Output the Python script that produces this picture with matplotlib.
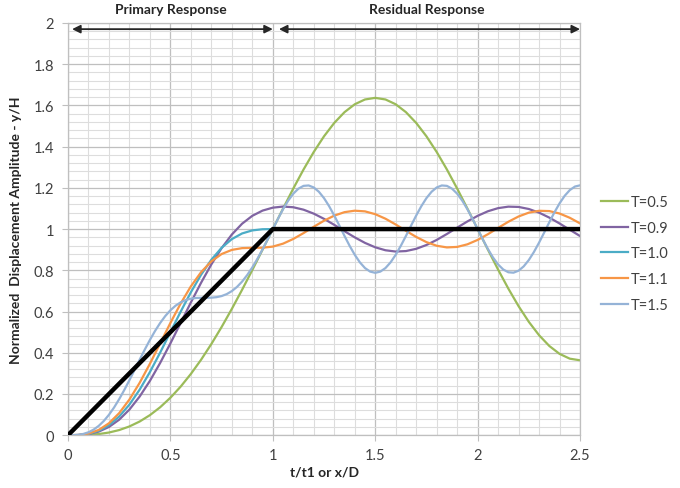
import matplotlib.pyplot as plt
import numpy as np
from matplotlib.ticker import MultipleLocator

plt.rcParams['font.family'] = ['Lato', 'DejaVu Sans']

# dimensionless time t/t1, step 0.05 (finer 0.025 step for the fast T=1.5 case)
tau = [round(0.05 * i, 3) for i in range(51)]
tau_fine = [round(0.025 * i, 3) for i in range(101)]

y_05 = [0.0, 0.0002, 0.0016, 0.0055, 0.0129, 0.0249, 0.0425, 0.0664, 0.0973, 0.1356,
        0.1817, 0.2356, 0.2973, 0.3664, 0.4425, 0.5249, 0.6129, 0.7055, 0.8016, 0.9002,
        1.0, 1.0996, 1.1967, 1.2890, 1.3742, 1.4502, 1.5150, 1.5672, 1.6055, 1.6288,
        1.6366, 1.6288, 1.6055, 1.5672, 1.5150, 1.4502, 1.3742, 1.2890, 1.1967, 1.0996,
        1.0, 0.9004, 0.8033, 0.7110, 0.6258, 0.5498, 0.4850, 0.4328, 0.3945, 0.3712,
        0.3634]
y_09 = [0.0, 0.0007, 0.0052, 0.0174, 0.0400, 0.0753, 0.1246, 0.1877, 0.2637, 0.3506,
        0.4454, 0.5444, 0.6440, 0.7400, 0.8289, 0.9076, 0.9737, 1.0261, 1.0644, 1.0897,
        1.1039, 1.1092, 1.1059, 1.0941, 1.0748, 1.0496, 1.0205, 0.9897, 0.9598, 0.9330,
        0.9116, 0.8972, 0.8909, 0.8933, 0.9042, 0.9227, 0.9473, 0.9762, 1.0069, 1.0370,
        1.0642, 1.0864, 1.1016, 1.1088, 1.1074, 1.0974, 1.0797, 1.0556, 1.0272, 0.9966,
        0.9662]
y_10 = [0.0, 0.0008, 0.0064, 0.0212, 0.0486, 0.0908, 0.1486, 0.2212, 0.3064, 0.4008,
        0.5, 0.5992, 0.6936, 0.7788, 0.8514, 0.9092, 0.9514, 0.9788, 0.9936, 0.9992,
        1.0, 1.0, 1.0, 1.0, 1.0, 1.0, 1.0, 1.0, 1.0, 1.0,
        1.0, 1.0, 1.0, 1.0, 1.0, 1.0, 1.0, 1.0, 1.0, 1.0,
        1.0, 1.0, 1.0, 1.0, 1.0, 1.0, 1.0, 1.0, 1.0, 1.0,
        1.0]
y_11 = [0.0, 0.0010, 0.0078, 0.0255, 0.0579, 0.1071, 0.1732, 0.2543, 0.3467, 0.4455,
        0.5447, 0.6387, 0.7222, 0.7912, 0.8435, 0.8789, 0.8990, 0.9075, 0.9091, 0.9096,
        0.9150, 0.9293, 0.9521, 0.9805, 1.0112, 1.0406, 1.0652, 1.0821, 1.0892, 1.0859,
        1.0723, 1.0503, 1.0222, 0.9916, 0.9619, 0.9368, 0.9191, 0.9110, 0.9134, 0.9260,
        0.9474, 0.9751, 1.0056, 1.0355, 1.0612, 1.0797, 1.0887, 1.0873, 1.0755, 1.0548,
        1.0276]
y_15 = [0.0, 0.0002, 0.0018, 0.0061, 0.0142, 0.0270, 0.0452, 0.0692, 0.0991, 0.1345,
        0.1750, 0.2196, 0.2672, 0.3167, 0.3666, 0.4156, 0.4624, 0.5057, 0.5445, 0.5782,
        0.6061, 0.6282, 0.6445, 0.6557, 0.6624, 0.6656, 0.6666, 0.6667, 0.6672, 0.6696,
        0.6750, 0.6845, 0.6991, 0.7192, 0.7452, 0.7770, 0.8142, 0.8561, 0.9018, 0.9502,
        1.0, 1.0495, 1.0963, 1.1378, 1.1717, 1.1961, 1.2096, 1.2116, 1.2018, 1.1809,
        1.1501, 1.1109, 1.0656, 1.0167, 0.9668, 0.9188, 0.8753, 0.8386, 0.8109, 0.7937,
        0.7878, 0.7937, 0.8109, 0.8386, 0.8753, 0.9188, 0.9668, 1.0167, 1.0656, 1.1109,
        1.1501, 1.1809, 1.2018, 1.2116, 1.2096, 1.1961, 1.1717, 1.1378, 1.0963, 1.0495,
        1.0, 0.9505, 0.9037, 0.8622, 0.8283, 0.8039, 0.7904, 0.7884, 0.7982, 0.8191,
        0.8499, 0.8891, 0.9344, 0.9833, 1.0332, 1.0812, 1.1247, 1.1614, 1.1891, 1.2063,
        1.2122]

# ramp input
ramp_x = [0, 1, 2.5]
ramp_y = [0, 1, 1]

series = [('T=0.5', tau, y_05, '#9BBB59'),
          ('T=0.9', tau, y_09, '#8064A2'),
          ('T=1.0', tau, y_10, '#4BACC6'),
          ('T=1.1', tau, y_11, '#F79646'),
          ('T=1.5', tau_fine, y_15, '#95B3D7')]

xticks = [0, 0.5, 1, 1.5, 2, 2.5]
xtick_labels = ['0', '0.5', '1', '1.5', '2', '2.5']
yticks = [0, 0.2, 0.4, 0.6, 0.8, 1, 1.2, 1.4, 1.6, 1.8, 2]
ytick_labels = ['0', '0.2', '0.4', '0.6', '0.8', '1', '1.2', '1.4', '1.6', '1.8', '2']

fig = plt.figure(figsize=(6.8, 4.89), dpi=100)
ax = fig.add_axes([0.1, 0.108, 0.753, 0.843])

for label, x, y, c in series:
    ax.plot(x, y, color=c, lw=1.6, label=label)
ax.plot(ramp_x, ramp_y, color='black', lw=3.2, solid_capstyle='butt', zorder=5)

ax.set_xlim(0, 2.5)
ax.set_ylim(0, 2)
ax.set_xticks(xticks)
ax.set_xticklabels(xtick_labels)
ax.set_yticks(yticks)
ax.set_yticklabels(ytick_labels)
ax.xaxis.set_minor_locator(MultipleLocator(0.1))
ax.yaxis.set_minor_locator(MultipleLocator(0.04))
ax.grid(which='major', color='#BFBFBF', lw=0.9)
ax.grid(which='minor', color='#DDDDDD', lw=0.8)
ax.set_axisbelow(True)
for s in ax.spines.values():
    s.set_color('#BFBFBF')
    s.set_linewidth(0.9)
ax.tick_params(which='major', length=4, color='#BFBFBF', labelsize=10.5,
               labelcolor='#404040')
ax.tick_params(axis='x', which='major', pad=5)
ax.tick_params(axis='y', which='major', pad=6)
ax.tick_params(which='minor', length=0)

ax.set_xlabel('t/t1 or x/D', fontsize=10, fontweight='bold', color='#262626', labelpad=3)
ax.set_ylabel('Normalized  Displacement Amplitude - y/H', fontsize=10,
              fontweight='bold', color='#262626', labelpad=8)

# response zones
arrow = dict(arrowstyle='<|-|>', color='#262626', lw=1.3, mutation_scale=12,
             shrinkA=0, shrinkB=0)
ax.annotate('', xy=(0.02, 1.97), xytext=(1.0, 1.97), arrowprops=arrow, annotation_clip=False)
ax.annotate('', xy=(1.03, 1.97), xytext=(2.5, 1.97), arrowprops=arrow, annotation_clip=False)
ax.text(0.5, 2.04, 'Primary Response', ha='center', va='bottom', fontsize=10,
        fontweight='bold', color='#262626')
ax.text(1.75, 2.04, 'Residual Response', ha='center', va='bottom', fontsize=10,
        fontweight='bold', color='#262626')

leg = ax.legend(loc='center left', bbox_to_anchor=(0.865, 0.48), bbox_transform=fig.transFigure,
                frameon=False, fontsize=10.5, handlelength=1.8, handletextpad=0.2,
                labelspacing=0.8)
for t in leg.get_texts():
    t.set_color('#404040')

fig.savefig('out.png', dpi=100)
